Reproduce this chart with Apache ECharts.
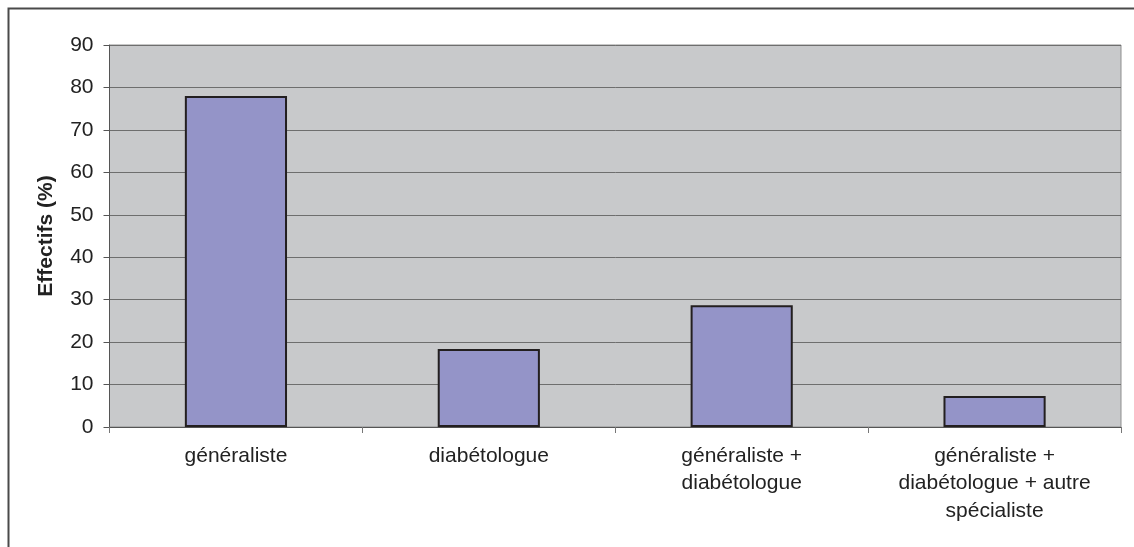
<!DOCTYPE html>
<html>
<head>
<meta charset="utf-8">
<script src="https://cdn.jsdelivr.net/npm/echarts@6/dist/echarts.min.js"></script>
<style>
html,body{margin:0;padding:0;background:#fff;}
#main{width:1134px;height:547px;}
</style>
</head>
<body>
<div id="main"></div>
<script>
const categories = ['généraliste', 'diabétologue', 'généraliste +\ndiabétologue', 'généraliste +\ndiabétologue + autre\nspécialiste'];
const values = [78.0, 18.4, 28.7, 7.3];
const yAxisName = 'Effectifs (%)';

const chart = echarts.init(document.getElementById('main'), null, {renderer: 'canvas'});
chart.setOption({
  animation: false,
  backgroundColor: '#ffffff',
  graphic: [{
    type: 'rect',
    left: 6, top: 6,
    shape: {width: 1200, height: 700},
    style: {fill: 'none', stroke: '#4a4a4a', lineWidth: 2}
  }],
  grid: {
    left: 109.5, right: 13, top: 45, bottom: 120,
    show: true, backgroundColor: '#c8c9cb', borderColor: '#8f8f8f', borderWidth: 1
  },
  xAxis: {
    type: 'category',
    data: categories,
    axisLine: {show: true, lineStyle: {color: '#555555', width: 1}},
    axisTick: {show: true, length: 6, lineStyle: {color: '#777777'}},
    axisLabel: {
      color: '#222222', fontFamily: 'Liberation Sans, Arial, sans-serif', fontSize: 21,
      lineHeight: 27.5, margin: 15, interval: 0
    }
  },
  yAxis: {
    type: 'value',
    min: 0, max: 90, interval: 10,
    name: yAxisName,
    nameLocation: 'middle',
    nameRotate: 90,
    nameGap: 53,
    nameTextStyle: {color: '#222222', fontFamily: 'Liberation Sans, Arial, sans-serif', fontSize: 21, fontWeight: 'bold'},
    axisLine: {show: true, lineStyle: {color: '#555555', width: 1}},
    axisTick: {show: true, length: 6, lineStyle: {color: '#555555'}},
    axisLabel: {color: '#222222', fontFamily: 'Liberation Sans, Arial, sans-serif', fontSize: 21, margin: 16},
    splitLine: {show: true, lineStyle: {color: '#6e6e6e', width: 1}}
  },
  series: [{
    type: 'bar',
    data: values,
    barWidth: '40.4%',
    itemStyle: {color: '#9494c8', borderColor: '#231f20', borderWidth: 2}
  }]
});
</script>
</body>
</html>
